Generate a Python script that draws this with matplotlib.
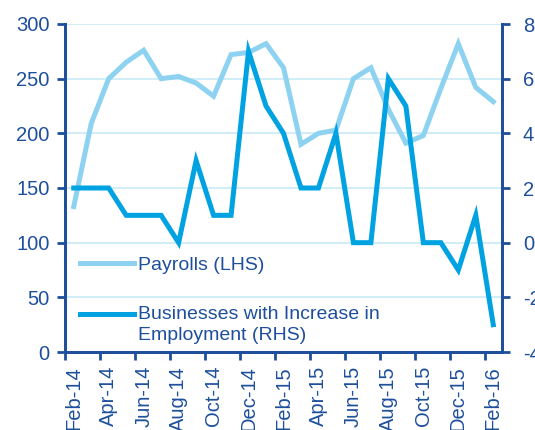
import matplotlib
matplotlib.use("Agg")
import matplotlib.pyplot as plt
import numpy as np

months = ["Feb-14", "Mar-14", "Apr-14", "May-14", "Jun-14", "Jul-14", "Aug-14", "Sep-14",
          "Oct-14", "Nov-14", "Dec-14", "Jan-15", "Feb-15", "Mar-15", "Apr-15", "May-15",
          "Jun-15", "Jul-15", "Aug-15", "Sep-15", "Oct-15", "Nov-15", "Dec-15", "Jan-16", "Feb-16"]
payrolls = [133, 209, 250, 265, 276, 250, 252, 246, 234, 272, 274, 282, 260, 190, 200, 203,
            250, 260, 222, 191, 198, 241, 282, 242, 229]
businesses = [2, 2, 2, 1, 1, 1, 0, 3, 1, 1, 7, 5, 4, 2, 2, 4, 0, 0, 6, 5, 0, 0, -1, 1, -3]
tick_labels = months[::2]
series_labels = ["Payrolls (LHS)", "Businesses with Increase in\nEmployment (RHS)"]

TXT = "#1E4F9C"
LIGHT = "#8DD2F1"
DARK = "#00A2E2"
GRID = "#C8EAF7"

plt.rcParams['font.family'] = ['Liberation Sans', 'DejaVu Sans']
plt.rcParams['axes.unicode_minus'] = False

fig = plt.figure(figsize=(5.35, 4.3), dpi=100)
ax = fig.add_axes([65/535, 78/430, 437/535, 328/430])
ax2 = ax.twinx()

x = np.arange(len(months))
l1, = ax.plot(x, payrolls, color=LIGHT, lw=3.6, solid_joinstyle='miter', zorder=3)
l2, = ax2.plot(x, businesses, color=DARK, lw=3.6, solid_joinstyle='miter', zorder=3)

ax.set_xlim(-0.5, len(months) - 0.5)
ax.set_ylim(0, 300)
ax2.set_ylim(-4, 8)
ax.set_yticks(np.arange(0, 301, 50))
ax2.set_yticks(np.arange(-4, 9, 2))

for yv in np.arange(50, 301, 50):
    ax.axhline(yv, color=GRID, lw=1.2, zorder=1)

ax.set_xticks(np.arange(-0.5, len(months), 2))
ax.set_xticklabels([])
ax.set_xticks(x[::2], minor=True)
ax.set_xticklabels(tick_labels, minor=True, rotation=90)
ax.tick_params(axis='x', which='major', length=6, width=2, color=TXT, direction='out')
ax.tick_params(axis='x', which='minor', length=0, pad=10, labelsize=14.5, labelcolor=TXT)
ax.tick_params(axis='y', length=6, width=2, color=TXT, labelsize=14.5, labelcolor=TXT, pad=5)
ax2.tick_params(axis='y', length=6, width=2, color=TXT, labelsize=14.5, labelcolor=TXT, pad=9)

for a in (ax, ax2):
    a.spines['top'].set_visible(False)
    for s in ('left', 'right', 'bottom'):
        a.spines[s].set_color(TXT)
        a.spines[s].set_linewidth(2)

leg = ax2.legend([l1, l2], series_labels,
                 loc='upper left', bbox_to_anchor=(80/535, 1 - 256/430),
                 bbox_transform=fig.transFigure, frameon=False, borderpad=0, borderaxespad=0,
                 fontsize=14, handlelength=2.8, handletextpad=0.2, labelspacing=1.68,
                 labelcolor=TXT)
for t in leg.get_texts():
    t.set_linespacing(1.25)
# align the second handle with the first line of its two-line label
h2 = leg.legend_handles[1]
h2.set_ydata(np.asarray(h2.get_ydata()) + 7.8)

fig.savefig("out.png", dpi=100)
